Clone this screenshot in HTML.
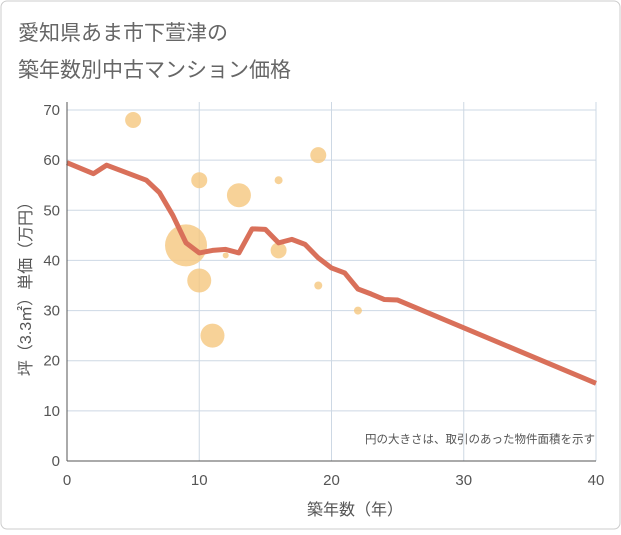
<!DOCTYPE html>
<html><head><meta charset="utf-8"><style>
body{margin:0;background:#fff}
.f{font-family:"Liberation Sans","Noto Sans CJK JP",sans-serif}
</style></head><body>
<svg width="621" height="530" xmlns="http://www.w3.org/2000/svg" class="f">
<rect x="1" y="1" width="619" height="528" rx="6" fill="#fff" stroke="#ccc"/>
<text x="18" y="40" font-size="21" fill="#666">愛知県あま市下萱津の</text>
<text x="18" y="77" font-size="21" fill="#666">築年数別中古マンション価格</text>
<g id="grid"></g>
<g id="bubbles"></g>
<g id="line"></g>
<g id="axes"></g>
<text x="595" y="443" font-size="11.5" fill="#555" text-anchor="end">円の大きさは、取引のあった物件面積を示す</text>
<text x="355" y="515" font-size="16" fill="#555" text-anchor="middle">築年数（年）</text>
<text transform="translate(31,285) rotate(-90)" font-size="16" fill="#555" text-anchor="middle">坪（3.3㎡）単価（万円）</text>
</svg>
<script>
const xTicks=[0,10,20,30,40];
const yTicks=[0,10,20,30,40,50,60,70];
const lineX=[0,2,3,4,5,6,7,8,9,10,11,12,13,14,15,16,17,18,19,20,21,22,23,24,25,40];
const lineY=[59.5,57.3,59,58,57,56,53.5,49,43.5,41.5,42,42.2,41.5,46.3,46.2,43.5,44.2,43.2,40.5,38.5,37.5,34.3,33.3,32.2,32.1,15.5];
const bubX=[5,9,10,10,11,12,13,16,16,19,19,22];
const bubY=[68,43,56,36,25,41,53,56,42,61,35,30];
const bubR=[8,21,8,12,12,3,12,4,8,8,4,4];
const NS="http://www.w3.org/2000/svg";
const X=v=>67+v*(596-67)/40, Y=v=>461-v*(461-110)/70;
function mk(t,a,p){const e=document.createElementNS(NS,t);for(const k in a)e.setAttribute(k,a[k]);p.appendChild(e);return e;}
const g=document.getElementById('grid'),ax=document.getElementById('axes');
yTicks.forEach(v=>{const l=mk('line',{x1:67,x2:596,y1:Y(v),y2:Y(v),stroke:'#cdd8e4'},g);


const t=mk('text',{x:60,y:Y(v)+5,'font-size':15,fill:'#555','text-anchor':'end'},ax);t.textContent=v;

});
xTicks.forEach(v=>{const l=mk('line',{x1:X(v),x2:X(v),y1:102,y2:461,stroke:'#cdd8e4'},g);


const t=mk('text',{x:X(v),y:485,'font-size':15,fill:'#555','text-anchor':'middle'},ax);t.textContent=v;

});
const a1=mk('line',{x1:67,x2:67,y1:102,y2:461,stroke:'#555'},ax);


const a2=mk('line',{x1:67,x2:596,y1:461,y2:461,stroke:'#555'},ax);


const b=document.getElementById('bubbles');
bubX.forEach((v,i)=>{const c=mk('circle',{cx:X(v),cy:Y(bubY[i]),r:bubR[i],fill:'#f5c77e','fill-opacity':0.8},b);

});
const p=mk('polyline',{points:lineX.map((v,i)=>X(v)+','+Y(lineY[i])).join(' '),fill:'none',stroke:'#d9705a','stroke-width':5,'stroke-linejoin':'round'},document.getElementById('line'));


</script>
</body></html>
